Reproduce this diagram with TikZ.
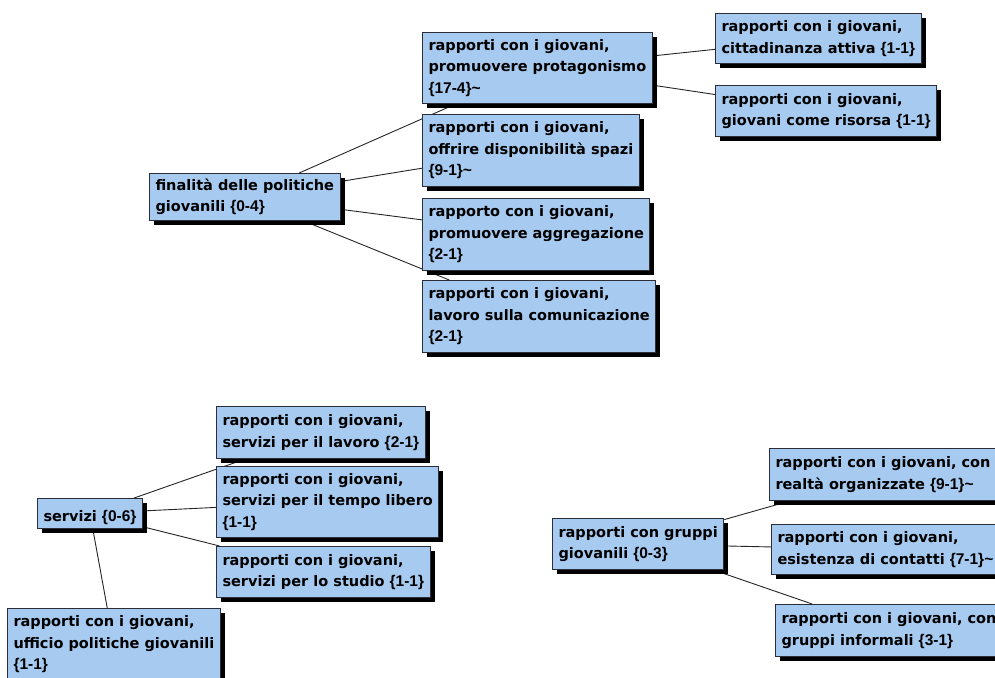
\documentclass[tikz,border=0pt]{standalone}
\usepackage{fontspec}
\setmainfont{DejaVu Sans}
\newfontfamily\scorefont{Liberation Sans}
\usetikzlibrary{shadows,backgrounds}
\definecolor{boxfill}{RGB}{166,202,240}
\definecolor{boxline}{RGB}{45,45,55}
% counts shown after each topic, e.g. {2-1}
\newcommand\score[1]{{\scorefont\bfseries\fontsize{15.5}{21.5}\selectfont\{#1\}}}
\newcommand\more{{\scorefont\bfseries\fontsize{15.5}{21.5}\selectfont\textasciitilde}}
\begin{document}
\begin{tikzpicture}[x=1pt,y=-1pt,
  topic/.style={draw=boxline, line width=1pt, fill=boxfill, anchor=north west,
    align=left, inner xsep=6pt, inner ysep=0pt,
    font=\fontsize{14.5}{21.5}\selectfont\bfseries,
    drop shadow={shadow xshift=4.5pt, shadow yshift=-4.5pt, fill=black, opacity=1},
    execute at begin node={\rule{0pt}{19pt}},
    execute at end node={\rule[-3.5pt]{0pt}{0pt}}},
  link/.style={draw=black!85, line width=0.9pt}]
\useasboundingbox (0,0) rectangle (995,677);
\clip (0,0) rectangle (995,677);

% first map: aims of youth policy
\node[topic, minimum height=47pt] (A) at (149,173) {finalità delle politiche\\giovanili \score{0-4}};
\node[topic, minimum height=71pt] (B) at (422,32) {rapporti con i giovani,\\promuovere protagonismo\\\score{17-4}\more};
\node[topic, minimum height=72pt] (C) at (422,114) {rapporti con i giovani,\\offrire disponibilità spazi\\\score{9-1}\more};
\node[topic, minimum height=72pt] (D) at (422,198) {rapporto con i giovani,\\promuovere aggregazione\\\score{2-1}};
\node[topic, minimum height=72pt] (E) at (422,280) {rapporti con i giovani,\\lavoro sulla comunicazione\\\score{2-1}};
\node[topic, minimum height=50pt] (F) at (715,13) {rapporti con i giovani,\\cittadinanza attiva \score{1-1}};
\node[topic, minimum height=51pt] (G) at (715,85) {rapporti con i giovani,\\giovani come risorsa \score{1-1}};

% second map: services
\node[topic, minimum height=30pt] (H) at (37,498) {servizi \score{0-6}};
\node[topic, minimum height=52pt] (I) at (216,406) {rapporti con i giovani,\\servizi per il lavoro \score{2-1}};
\node[topic, minimum height=71pt] (J) at (216,466) {rapporti con i giovani,\\servizi per il tempo libero\\\score{1-1}};
\node[topic, minimum height=51pt] (K) at (216,546) {rapporti con i giovani,\\servizi per lo studio \score{1-1}};
\node[topic, minimum height=72pt] (L) at (7,608) {rapporti con i giovani,\\ufficio politiche giovanili\\\score{1-1}};

% third map: youth groups
\node[topic, minimum height=51pt] (M) at (552,518) {rapporti con gruppi\\giovanili \score{0-3}};
\node[topic, minimum height=52pt] (N) at (769,448) {rapporti con i giovani, con\\realtà organizzate \score{9-1}\more};
\node[topic, minimum height=50pt] (O) at (771,524) {rapporti con i giovani,\\esistenza di contatti \score{7-1}\more};
\node[topic, minimum height=52pt] (P) at (775,604) {rapporti con i giovani, con\\gruppi informali \score{3-1}};

\begin{scope}[on background layer]
  \fill[white] (0,0) rectangle (995,677);
  \draw[link] (A) -- (B);
  \draw[link] (A) -- (C);
  \draw[link] (A) -- (D);
  \draw[link] (A) -- (E);
  \draw[link] (B) -- (F);
  \draw[link] (B) -- (G);
  \draw[link] (H) -- (I);
  \draw[link] (H) -- (J);
  \draw[link] (H) -- (K);
  \draw[link] (H) -- (L);
  \draw[link] (M) -- (N);
  \draw[link] (M) -- (O);
  \draw[link] (M) -- (P);
\end{scope}
\end{tikzpicture}
\end{document}
